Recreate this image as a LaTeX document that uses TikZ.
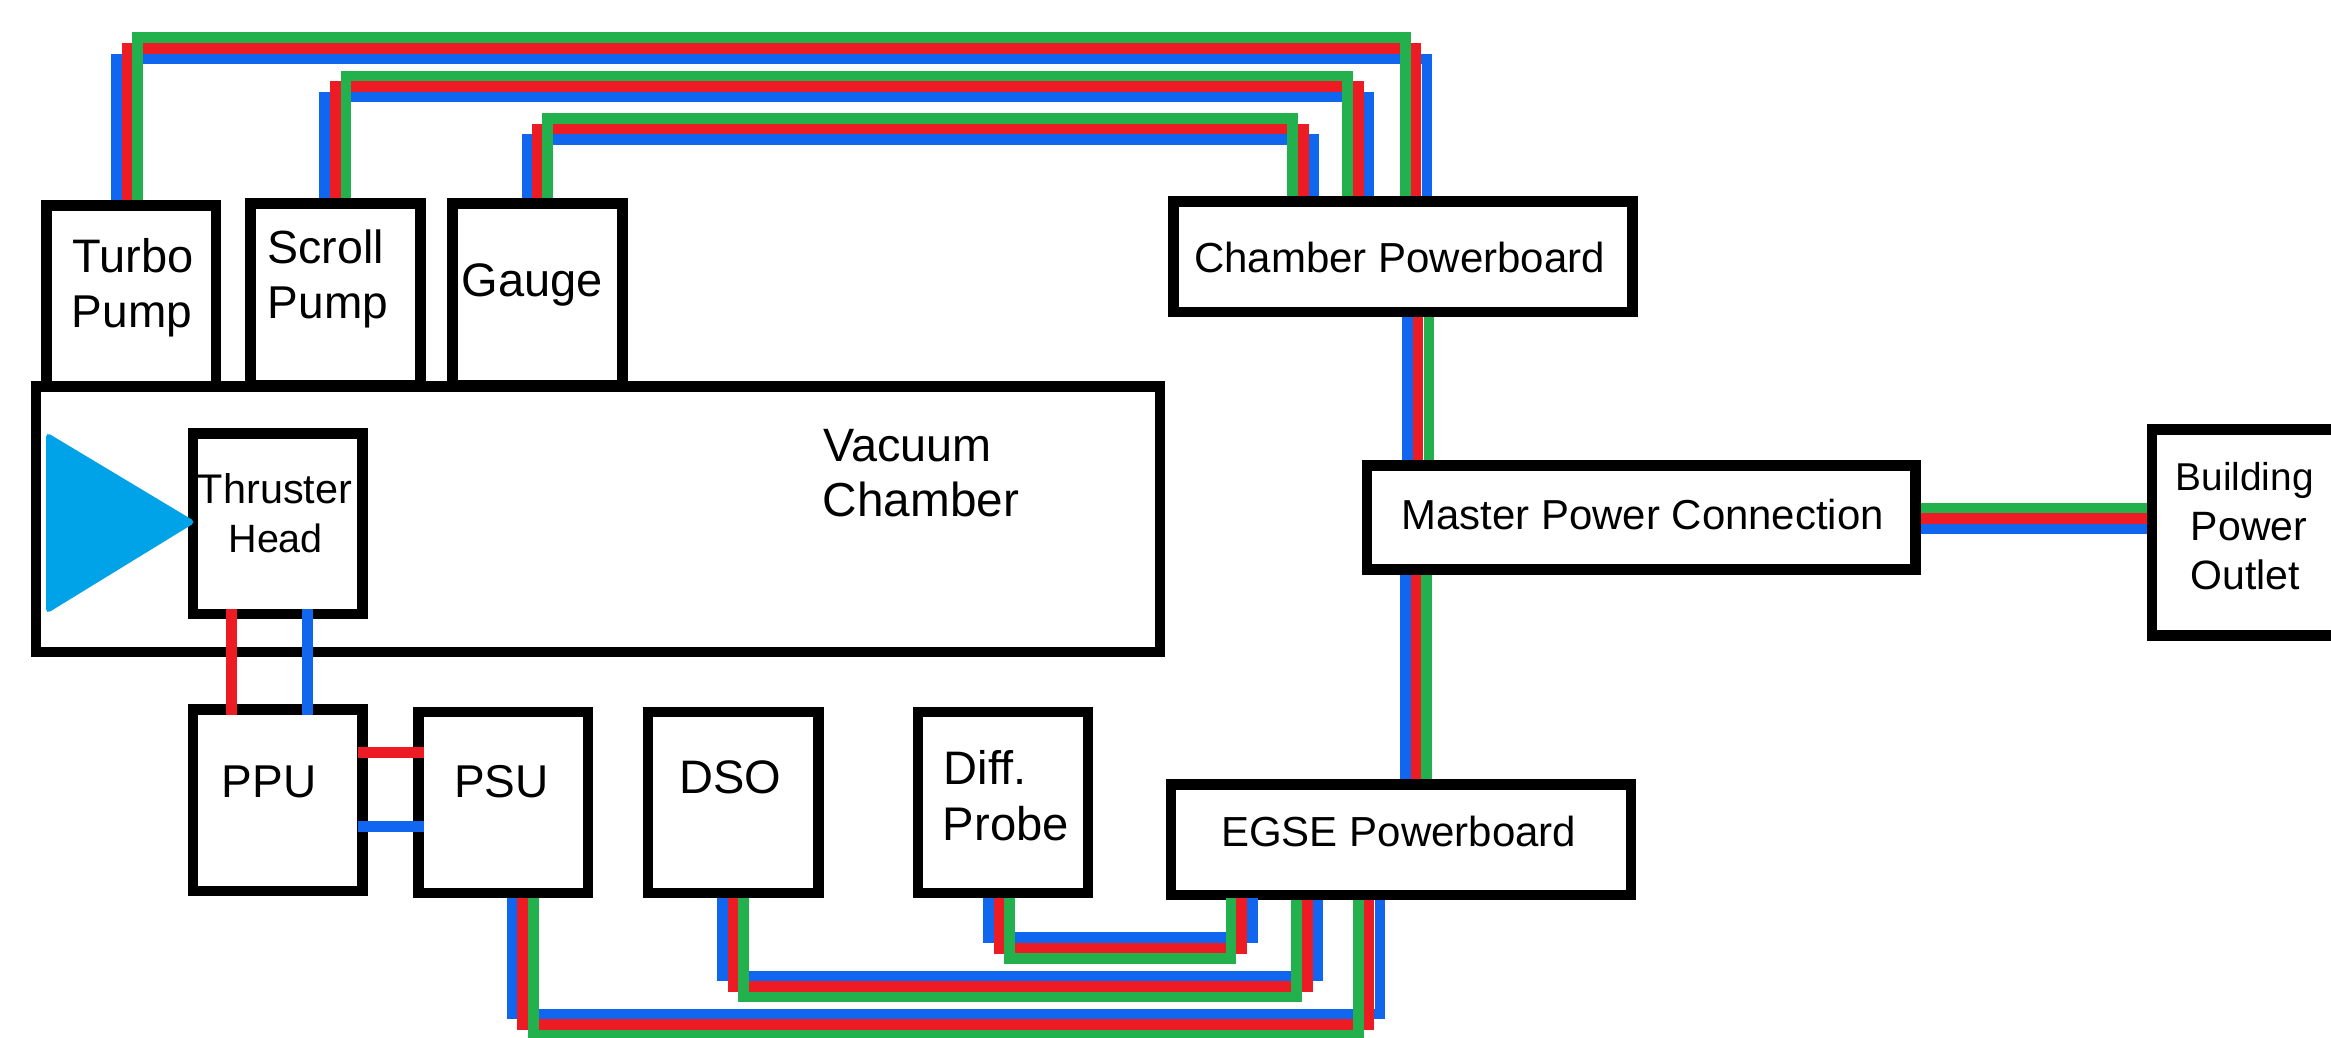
\documentclass[tikz,border=0pt]{standalone}
\usepackage{fontspec}
\setmainfont{Liberation Sans}
\definecolor{wireblue}{HTML}{1066EE}
\definecolor{wirered}{HTML}{ED1C24}
\definecolor{wiregreen}{HTML}{22B14C}
\definecolor{plume}{HTML}{00A2E8}
\tikzset{
  blockbox/.style={draw=black,fill=white,line width=10.5pt,rectangle,inner sep=0pt,outer sep=5.25pt},
  wireb/.style={draw=wireblue,line width=10.6pt,line join=miter,line cap=butt},
  wirer/.style={draw=wirered,line width=10.6pt,line join=miter,line cap=butt},
  wireg/.style={draw=wiregreen,line width=10.6pt,line join=miter,line cap=butt},
  lbl/.style={anchor=base,inner sep=0pt,outer sep=0pt,text=black}
}
\newcommand{\blk}[5]{%
  \pgfmathsetmacro{\bkw}{#4-#2-10.5}%
  \pgfmathsetmacro{\bkh}{#5-#3-10.5}%
  \pgfmathsetmacro{\bkx}{(#2+#4)/2}%
  \pgfmathsetmacro{\bky}{(#3+#5)/2}%
  \node[blockbox,minimum width=\bkw pt,minimum height=\bkh pt] (#1) at (\bkx,\bky) {};}
\newcommand{\txt}[5]{\node[lbl,font=\fontsize{#4}{#4}\selectfont] (#1) at (#2,#3) {#5};}
\begin{document}
\begin{tikzpicture}[x=1pt,y=-1pt]
\useasboundingbox (0,0) rectangle (2331,1038);
\fill[white] (0,0) rectangle (2331,1038);
% boxes
\blk{turbo}{41}{200.3}{221.4}{391}
\blk{scroll}{245.4}{198.3}{425.5}{390}
\blk{gauge}{447.4}{198.3}{627.6}{390}
\blk{chamber}{30.6}{381.3}{1165.3}{657.3}
\blk{thruster}{187.8}{428}{367.9}{619.3}
\blk{ppu}{187.8}{704.3}{367.9}{896}
\blk{psu}{413.3}{706.7}{593.4}{898.3}
\blk{dso}{642.9}{706.7}{823.5}{898.3}
\blk{diff}{912.8}{706.7}{1093.4}{898.3}
\blk{egse}{1165.8}{779.3}{1636}{900}
\blk{cpb}{1168.4}{196}{1637.8}{317.3}
\blk{master}{1361.8}{460}{1920.6}{574.7}
\blk{outlet}{2146.7}{424}{2360}{640.7}
% plume
\fill[plume,rounded corners=5pt] (46,432) -- (46,614) -- (196,522) -- cycle;
% gauge bus
\draw[wireb] (526.8,0 |- gauge.north) -- (526.8,139.7) -- (1314,139.7) -- (1314,0 |- cpb.north);
\draw[wirer] (537.2,0 |- gauge.north) -- (537.2,129) -- (1303.3,129) -- (1303.3,0 |- cpb.north);
\draw[wireg] (547.7,0 |- gauge.north) -- (547.7,118.5) -- (1292.6,118.5) -- (1292.6,0 |- cpb.north);
% scroll bus
\draw[wireb] (324.7,0 |- scroll.north) -- (324.7,97) -- (1369,97) -- (1369,0 |- cpb.north);
\draw[wirer] (335.4,0 |- scroll.north) -- (335.4,86.5) -- (1358.4,86.5) -- (1358.4,0 |- cpb.north);
\draw[wireg] (346,0 |- scroll.north) -- (346,76.2) -- (1347.7,76.2) -- (1347.7,0 |- cpb.north);
% turbo bus
\draw[wireb] (116.5,0 |- turbo.north) -- (116.5,58.9) -- (1426.8,58.9) -- (1426.8,0 |- cpb.north);
\draw[wirer] (127.3,0 |- turbo.north) -- (127.3,48.4) -- (1416,48.4) -- (1416,0 |- cpb.north);
\draw[wireg] (137.5,0 |- turbo.north) -- (137.5,37.7) -- (1405.4,37.7) -- (1405.4,0 |- cpb.north);
% chamber powerboard to master
\draw[wireb] (1407.4,0 |- cpb.south) -- (1407.4,0 |- master.north);
\draw[wirer] (1418,0 |- cpb.south) -- (1418,0 |- master.north);
\draw[wireg] (1428.8,0 |- cpb.south) -- (1428.8,0 |- master.north);
% master to EGSE
\draw[wireb] (1405.5,0 |- master.south) -- (1405.5,0 |- egse.north);
\draw[wirer] (1416.3,0 |- master.south) -- (1416.3,0 |- egse.north);
\draw[wireg] (1426.7,0 |- master.south) -- (1426.7,0 |- egse.north);
% master to outlet
\draw[wireg] (0,507.8 -| master.east) -- (0,507.8 -| outlet.west);
\draw[wirer] (0,518.3 -| master.east) -- (0,518.3 -| outlet.west);
\draw[wireb] (0,529 -| master.east) -- (0,529 -| outlet.west);
% thruster to PPU
\draw[wirer] ([yshift=10.5pt]231.4,0 |- thruster.south) -- ([yshift=-10.5pt]231.4,0 |- ppu.north);
\draw[wireb] ([yshift=10.5pt]307.4,0 |- thruster.south) -- ([yshift=-10.5pt]307.4,0 |- ppu.north);
% PPU to PSU
\draw[wirer] ([xshift=-10pt]0,752.3 -| ppu.east) -- ([xshift=10.5pt]0,752.3 -| psu.west);
\draw[wireb] ([xshift=-10pt]0,826.7 -| ppu.east) -- ([xshift=10.5pt]0,826.7 -| psu.west);
% PSU bus
\draw[wireb] (512,0 |- psu.south) -- (512,1014) -- (1379.8,1014) -- (1379.8,0 |- egse.south);
\draw[wirer] (522.7,0 |- psu.south) -- (522.7,1024.7) -- (1369,1024.7) -- (1369,0 |- egse.south);
\draw[wireg] (533.2,0 |- psu.south) -- (533.2,1035.3) -- (1358.7,1035.3) -- (1358.7,0 |- egse.south);
% DSO bus
\draw[wireb] (722.7,0 |- dso.south) -- (722.7,976) -- (1318,976) -- (1318,0 |- egse.south);
\draw[wirer] (733.2,0 |- dso.south) -- (733.2,986.5) -- (1307.4,986.5) -- (1307.4,0 |- egse.south);
\draw[wireg] (743.7,0 |- dso.south) -- (743.7,996.8) -- (1296.7,996.8) -- (1296.7,0 |- egse.south);
% probe bus
\draw[wireb] (988.5,0 |- diff.south) -- (988.5,937.7) -- (1252.3,937.7) -- ([yshift=2pt]1252.3,0 |- egse.south);
\draw[wirer] (999.3,0 |- diff.south) -- (999.3,948.2) -- (1241.5,948.2) -- ([yshift=2pt]1241.5,0 |- egse.south);
\draw[wireg] (1009.7,0 |- diff.south) -- (1009.7,958.5) -- (1230.8,958.5) -- ([yshift=2pt]1230.8,0 |- egse.south);
% labels
\txt{t1}{133}{272.7}{47}{Turbo}
\txt{t2}{132}{327.7}{46}{Pump}
\txt{t3}{325.8}{263.3}{46.5}{Scroll}
\txt{t4}{328}{318.7}{46}{Pump}
\txt{t5}{532.4}{296.7}{47}{Gauge}
\txt{t6}{275}{503.3}{41.4}{Thruster}
\txt{t7}{275.7}{552.7}{39.5}{Head}
\txt{t8}{907.5}{461.7}{46.8}{Vacuum}
\txt{t9}{921}{516.7}{47.7}{Chamber}
\txt{t10}{269}{797.3}{46}{PPU}
\txt{t11}{501.3}{797.3}{46}{PSU}
\txt{t12}{730.6}{793.3}{47}{DSO}
\txt{t13}{985}{784.7}{47}{Diff.}
\txt{t14}{1005.9}{840}{47.2}{Probe}
\txt{t15}{1398.7}{846.7}{42}{EGSE Powerboard}
\txt{t16}{1399.7}{272.7}{42}{Chamber Powerboard}
\txt{t17}{1642.8}{529.3}{41.9}{Master Power Connection}
\txt{t18}{2244.7}{490.7}{38.8}{Building}
\txt{t19}{2249}{540}{41}{Power}
\txt{t20}{2245}{589}{41}{Outlet}
\end{tikzpicture}
\end{document}
